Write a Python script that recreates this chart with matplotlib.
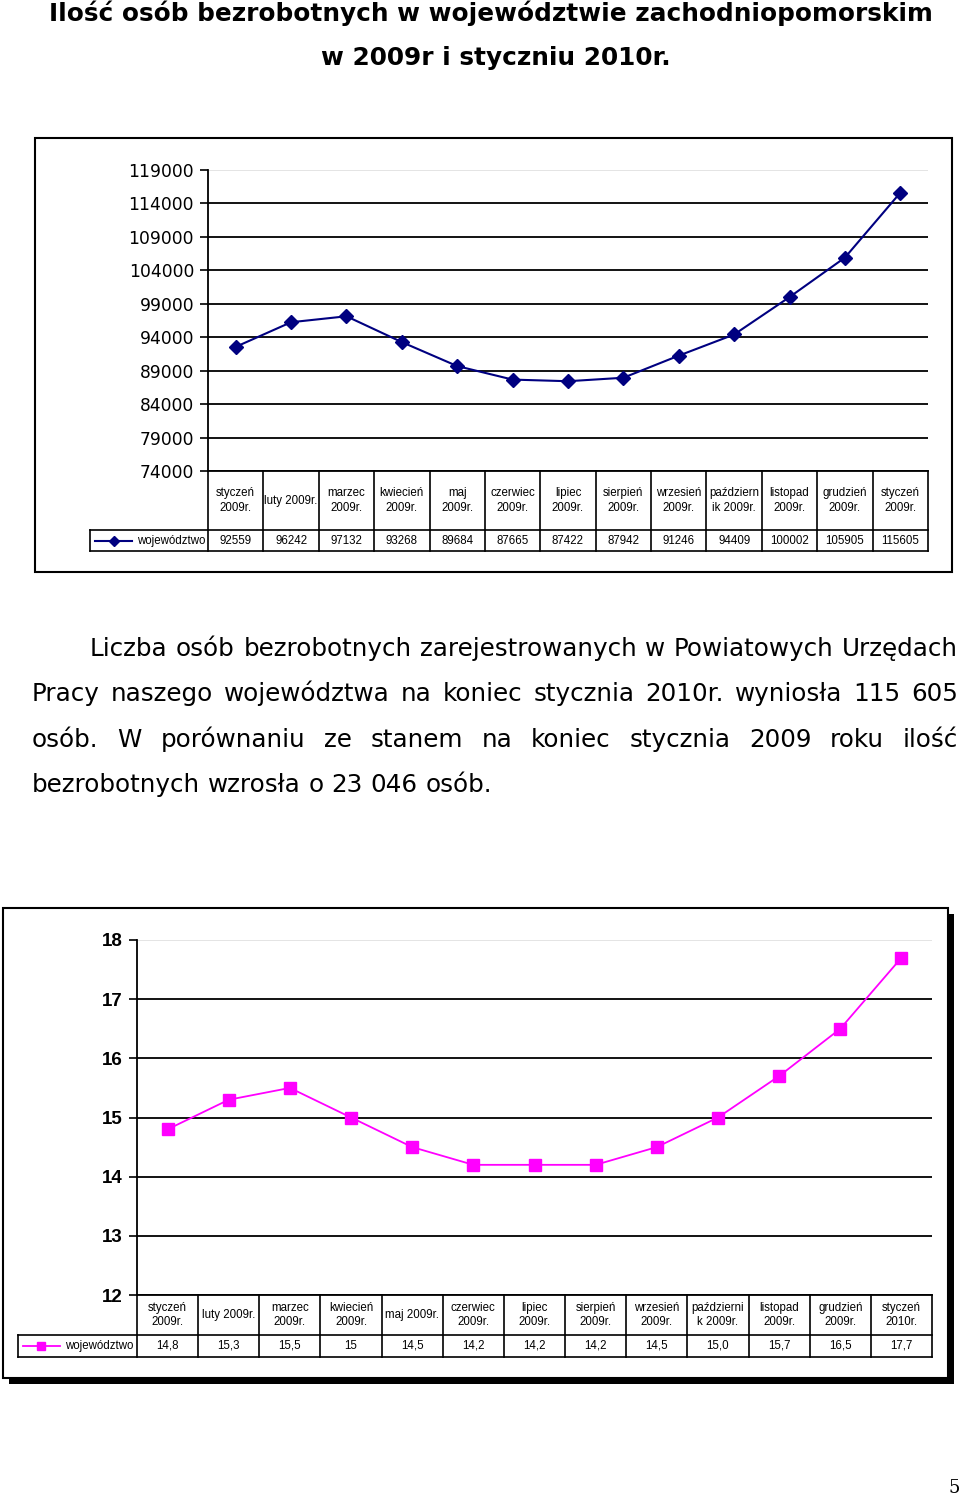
import matplotlib
matplotlib.use("Agg")
import matplotlib.pyplot as plt
from matplotlib.patches import Rectangle
from matplotlib.lines import Line2D
from matplotlib.transforms import blended_transform_factory

# ---- data ----
months_2009 = ["styczeń\n2009r.", "luty 2009r.", "marzec\n2009r.", "kwiecień\n2009r.", "maj\n2009r.",
               "czerwiec\n2009r.", "lipiec\n2009r.", "sierpień\n2009r.", "wrzesień\n2009r.",
               "październ\nik 2009r.", "listopad\n2009r.", "grudzień\n2009r.", "styczeń\n2009r."]
unemployed = [92559, 96242, 97132, 93268, 89684, 87665, 87422, 87942, 91246, 94409, 100002, 105905, 115605]
count_ticks = [74000, 79000, 84000, 89000, 94000, 99000, 104000, 109000, 114000, 119000]

months_rate = ["styczeń\n2009r.", "luty 2009r.", "marzec\n2009r.", "kwiecień\n2009r.", "maj 2009r.",
               "czerwiec\n2009r.", "lipiec\n2009r.", "sierpień\n2009r.", "wrzesień\n2009r.",
               "październi\nk 2009r.", "listopad\n2009r.", "grudzień\n2009r.", "styczeń\n2010r."]
rate = [14.8, 15.3, 15.5, 15.0, 14.5, 14.2, 14.2, 14.2, 14.5, 15.0, 15.7, 16.5, 17.7]
rate_labels = ["14,8", "15,3", "15,5", "15", "14,5", "14,2", "14,2", "14,2", "14,5", "15,0", "15,7", "16,5", "17,7"]
rate_ticks = [12, 13, 14, 15, 16, 17, 18]

series_name = "województwo"
title_lines = ["Ilość osób bezrobotnych w województwie zachodniopomorskim",
               "w 2009r i styczniu 2010r."]
para_lines = [
    "Liczba osób bezrobotnych zarejestrowanych w Powiatowych Urzędach",
    "Pracy naszego województwa na koniec stycznia 2010r. wyniosła 115 605",
    "osób. W porównaniu ze stanem na koniec stycznia 2009 roku ilość",
    "bezrobotnych wzrosła o 23 046 osób.",
]

W, H = 960, 1499
fig = plt.figure(figsize=(W / 100, H / 100), dpi=100)
fig.patch.set_facecolor("white")


def fx(px):
    return px / W


def fy(py):
    return 1 - py / H


TABLE_FONT = "Liberation Sans"


def chart(left, right, top, bottom, ylim, ticks, xs_vals, color, marker, ms, lw,
          tick_font, tick_size, tick_weight, labels, value_texts, head_bot, row_bot, leg_left):
    ax = fig.add_axes([fx(left), fy(bottom), (right - left) / W, (bottom - top) / H])
    ax.patch.set_alpha(0)
    n = len(xs_vals)
    xs = [i + 0.5 for i in range(n)]
    ax.plot(xs, xs_vals, color=color, marker=marker, ms=ms, lw=lw, zorder=3, clip_on=False)
    ax.set_xlim(0, n)
    ax.set_ylim(*ylim)
    ax.set_yticks(ticks)
    ax.set_yticklabels([str(t) for t in ticks], fontsize=tick_size, family=tick_font,
                       fontweight=tick_weight)
    ax.set_xticks([])
    ax.tick_params(axis="y", direction="out", length=6, width=1.2, pad=4)
    for s in ["top", "right"]:
        ax.spines[s].set_visible(False)
    for s in ["left", "bottom"]:
        ax.spines[s].set_linewidth(1.3)
    ax.grid(axis="y", color="black", lw=1.3)
    ax.get_ygridlines()[-1].set_color("#e2e2e2")
    ax.set_axisbelow(True)

    # table under the axis
    tr = blended_transform_factory(ax.transData, fig.transFigure)
    unit = (right - left) / n
    xl = (leg_left - left) / unit
    kw = dict(transform=tr, color="black", lw=1.2, clip_on=False)
    for i in range(n + 1):
        fig.add_artist(Line2D([i, i], [fy(bottom), fy(row_bot)], **kw))
    fig.add_artist(Line2D([xl, n], [fy(head_bot), fy(head_bot)], **kw))
    fig.add_artist(Line2D([xl, n], [fy(row_bot), fy(row_bot)], **kw))
    fig.add_artist(Line2D([xl, xl], [fy(head_bot), fy(row_bot)], **kw))
    for i, lab in enumerate(labels):
        fig.text(i + 0.5, fy((bottom + head_bot) / 2), lab, transform=tr, ha="center", va="center",
                 fontsize=8.3, family=TABLE_FONT, linespacing=1.3)
    ymid = fy((head_bot + row_bot) / 2)
    for i, v in enumerate(value_texts):
        fig.text(i + 0.5, ymid, v, transform=tr, ha="center", va="center",
                 fontsize=8.3, family=TABLE_FONT)
    # legend key
    k0 = xl + 5 / unit
    k1 = xl + 42 / unit
    fig.add_artist(Line2D([k0, k1], [ymid, ymid], transform=tr, color=color, lw=lw))
    fig.add_artist(Line2D([(k0 + k1) / 2], [ymid], transform=tr, color=color, marker=marker,
                          ms=ms * 0.75, lw=0))
    fig.text(xl + 47 / unit, ymid, series_name, transform=tr, ha="left", va="center",
             fontsize=8.3, family=TABLE_FONT)
    return ax


# chart frames
fig.add_artist(Rectangle((fx(35), fy(572)), (952 - 35) / W, (572 - 138) / H,
                         transform=fig.transFigure, fill=False, ec="black", lw=1.5, zorder=-1))
fig.add_artist(Rectangle((fx(9), fy(1384)), (954 - 9) / W, (1384 - 914) / H,
                         transform=fig.transFigure, fc="black", ec="black", lw=0, zorder=-3))
fig.add_artist(Rectangle((fx(3), fy(1378)), (948 - 3) / W, (1378 - 908) / H,
                         transform=fig.transFigure, fc="white", ec="black", lw=1.5, zorder=-2))

chart(208, 928, 170, 471, (74000, 119000), count_ticks, unemployed, "#000080", "D", 7, 1.5,
      "DejaVu Sans", 12.3, "normal", months_2009, [str(v) for v in unemployed], 530, 551, 90)
chart(137, 932, 940, 1295, (12, 18), rate_ticks, rate, "#ff00ff", "s", 8, 1.3,
      "Liberation Sans", 13.5, "bold", months_rate, rate_labels, 1335, 1357, 18)

# ---- texts: title and justified paragraph ----
fig.canvas.draw()
r = fig.canvas.get_renderer()


def text_width(s, size, weight="normal"):
    t = fig.text(0, 0, s, fontsize=size, family="DejaVu Sans", fontweight=weight)
    w = t.get_window_extent(renderer=r).width
    t.remove()
    return w


tsize = 16 * 882 / text_width(title_lines[0], 16, "bold")
fig.text(fx(491), fy(21), title_lines[0], ha="center", va="baseline", fontsize=tsize,
         family="DejaVu Sans", fontweight="bold")
fig.text(fx(496), fy(65), title_lines[1], ha="center", va="baseline", fontsize=tsize,
         family="DejaVu Sans", fontweight="bold")

psize = 15 * 461 / text_width(para_lines[3], 15)
baselines = [656, 701, 747, 792]
starts = [90, 32, 32, 32]
right_edge = 958
for k, line in enumerate(para_lines):
    words = line.split(" ")
    widths = [text_width(w_, psize) for w_ in words]
    if k < 3:
        gap = (right_edge - starts[k] - sum(widths)) / (len(words) - 1)
    else:
        gap = text_width("a b", psize) - text_width("ab", psize)
    x = starts[k]
    for w_, wd in zip(words, widths):
        fig.text(fx(x), fy(baselines[k]), w_, ha="left", va="baseline", fontsize=psize,
                 family="DejaVu Sans")
        x += wd + gap

fig.text(fx(960), fy(1497), "5", ha="right", va="bottom", fontsize=13, family="DejaVu Serif")

fig.savefig("out.png", dpi=100)
